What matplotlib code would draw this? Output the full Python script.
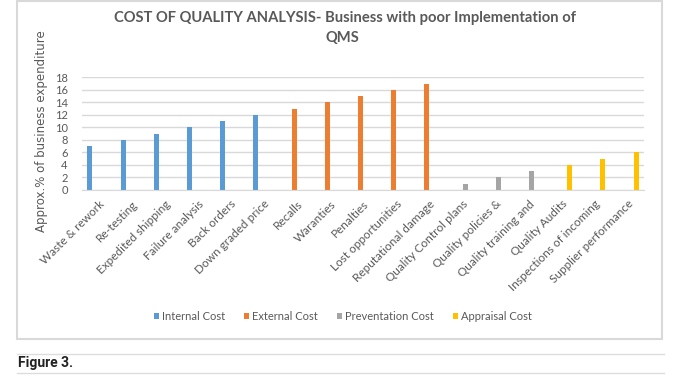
import matplotlib
matplotlib.use("Agg")
import matplotlib.pyplot as plt
import numpy as np
from matplotlib.patches import Rectangle
from matplotlib.lines import Line2D

# data
categories = ['Waste & rework', 'Re-testing', 'Expedited shipping', 'Failure analysis',
              'Back orders', 'Down graded price', 'Recalls', 'Waranties', 'Penalties',
              'Lost opportunities', 'Reputational damage', 'Quality Control plans',
              'Quality policies &', 'Quality training and', 'Quality Audits',
              'Inspections of incoming', 'Supplier performance']
internal_cost = [7, 8, 9, 10, 11, 12, 0, 0, 0, 0, 0, 0, 0, 0, 0, 0, 0]
external_cost = [0, 0, 0, 0, 0, 0, 13, 14, 15, 16, 17, 0, 0, 0, 0, 0, 0]
prevention_cost = [0, 0, 0, 0, 0, 0, 0, 0, 0, 0, 0, 1, 2, 3, 0, 0, 0]
appraisal_cost = [0, 0, 0, 0, 0, 0, 0, 0, 0, 0, 0, 0, 0, 0, 4, 5, 6]
series_names = ['Internal Cost', 'External Cost', 'Preventation Cost', 'Appraisal Cost']
y_ticks = [0, 2, 4, 6, 8, 10, 12, 14, 16, 18]

colors = ['#5B9BD5', '#ED7D31', '#A5A5A5', '#FFC000']
grey_text = '#595959'
W, H = 682, 391


def fx(x):
    return x / W


def fy(y):
    return 1 - y / H


fig = plt.figure(figsize=(W / 100, H / 100), dpi=100)
fig.patch.set_facecolor('white')

# chart frame
fig.patches.append(Rectangle((fx(17), fy(339)), fx(662) - fx(17), fy(1) - fy(339),
                             transform=fig.transFigure, facecolor='none',
                             edgecolor='#D9D9D9', linewidth=1.5))

ax = fig.add_axes([fx(81.7), fy(190), fx(644.3) - fx(81.7), fy(77.3) - fy(190)])

x = np.arange(len(categories))
step = 0.167
all_series = [internal_cost, external_cost, prevention_cost, appraisal_cost]
for i, (vals, name, c) in enumerate(zip(all_series, series_names, colors)):
    ax.bar(x + (i - 1.5) * step, vals, width=0.15, color=c, label=name, linewidth=0)

ax.set_xlim(-0.5, len(categories) - 0.5)
ax.set_ylim(0, 18)
ax.yaxis.grid(True, color='#D9D9D9', linewidth=1)
ax.set_axisbelow(True)
for s in ['top', 'right', 'left']:
    ax.spines[s].set_visible(False)
ax.spines['bottom'].set_color('#D9D9D9')
ax.tick_params(length=0)
ax.set_yticks(y_ticks)
ax.set_yticklabels([str(v) for v in y_ticks], fontfamily='Lato', fontsize=8, color=grey_text)
ax.tick_params(axis='y', pad=10)
ax.set_xticks(x)
ax.set_xticklabels(categories, rotation=45, ha='right', rotation_mode='anchor',
                   fontfamily='Lato', fontsize=8.5, color=grey_text)
ax.tick_params(axis='x', pad=6)

fig.text(fx(42), fy(131), 'Approx.% of business expenditure', rotation=90,
         ha='center', va='center', fontfamily='DejaVu Sans', fontsize=8.5, color=grey_text)

fig.text(fx(344.7), fy(18.3), 'COST OF QUALITY ANALYSIS- Business with poor Implementation of',
         ha='center', va='center', fontfamily='Lato', fontweight='bold', fontsize=10.6,
         color=grey_text)
fig.text(fx(342.7), fy(38.5), 'QMS', ha='center', va='center', fontfamily='Lato',
         fontweight='bold', fontsize=10.6, color=grey_text)

leg = fig.legend(loc='center', bbox_to_anchor=(fx(343), fy(316)), ncol=4, frameon=False,
                 prop={'family': 'Lato', 'size': 8}, handlelength=0.45, handleheight=0.45,
                 handletextpad=0.3, columnspacing=1.7)
for t in leg.get_texts():
    t.set_color(grey_text)

# caption block below the chart
for yy in (354, 373):
    fig.add_artist(Line2D([fx(17), fx(664)], [fy(yy), fy(yy)], transform=fig.transFigure,
                          color='#DDDDDD', linewidth=1))
fig.text(fx(18), fy(363.5), 'Figure 3.', ha='left', va='center', fontfamily='Roboto',
         fontweight='bold', fontsize=10, color='#222222')

fig.savefig('out.png', dpi=100)
